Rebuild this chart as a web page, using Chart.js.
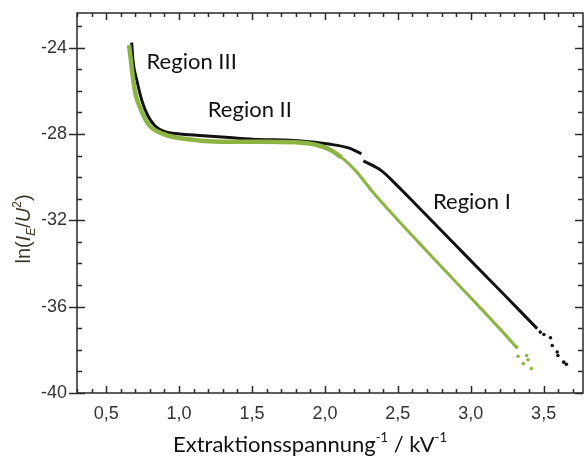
<!DOCTYPE html>
<html>
<head>
<meta charset="utf-8">
<script src="https://cdn.jsdelivr.net/npm/chart.js@4/dist/chart.umd.min.js"></script>
<style>
  body { margin: 0; background: #fff; }
  #wrap { width: 587px; height: 459px; }
</style>
</head>
<body>
<div id="wrap"><canvas id="myChart" width="587" height="459"></canvas></div>
<script>
'use strict';

// tick labels
const xTicks = [0.5, 1.0, 1.5, 2.0, 2.5, 3.0, 3.5];
const yTicks = [-40, -36, -32, -28, -24];

// black series (null = break in the curve)
const blackX = [0.675, 0.684, 0.711, 0.745, 0.786, 0.834, 0.902, 1.004, 1.14, 1.345, 1.549, 1.753, 1.89, 2.026, 2.162, 2.25, 2.257, 2.264, 2.387, 2.503, 2.617, 2.753, 2.889, 3.048, 3.23, 3.456];
const blackY = [-23.77, -24.62, -25.54, -26.46, -27.16, -27.62, -27.9, -28.0, -28.07, -28.17, -28.26, -28.29, -28.36, -28.47, -28.65, -28.92, null, -29.25, -29.7, -30.44, -31.22, -32.16, -33.1, -34.2, -35.45, -37.02];
const blackTailX = [3.477, 3.502, 3.547, 3.559, 3.593, 3.598, 3.638, 3.656];
const blackTailY = [-37.18, -37.29, -37.44, -37.8, -38.1, -38.26, -38.57, -38.67];

// green series
const greenX = [0.657, 0.670, 0.686, 0.704, 0.732, 0.788, 0.89, 1.05, 1.277, 1.57, 1.80, 1.937, 2.026, 2.114, 2.21, 2.321, 2.503, 2.639, 2.775, 3.002, 3.23, 3.32];
const greenY = [-23.88, -24.62, -25.54, -26.23, -26.77, -27.54, -28.0, -28.24, -28.36, -28.36, -28.39, -28.5, -28.7, -29.09, -29.7, -30.63, -32.01, -33.0, -33.98, -35.6, -37.25, -37.93];
const greenTailX = [3.315, 3.325, 3.384, 3.393, 3.361, 3.416];
const greenTailY = [-37.87, -38.3, -38.26, -38.46, -38.64, -38.87];

// region labels
const regionNames = ['Region III', 'Region II', 'Region I'];
const regionX = [0.777, 1.197, 2.741];
const regionY = [-25.0, -27.2, -31.5];

const BLACK = '#111111';
const GREEN = '#8db443';

function toPoints(xs, ys) {
  return xs.map((x, i) => ({ x: x, y: ys[i] }));
}

function fmt(v) {
  return v.toFixed(1).replace('.', ',');
}

// frame with inward ticks on all four sides
const framePlugin = {
  id: 'frame',
  afterDraw(chart) {
    const ctx = chart.ctx;
    const a = chart.chartArea;
    const xs = chart.scales.x;
    const ys = chart.scales.y;
    ctx.save();
    ctx.strokeStyle = '#2a2a2a';
    ctx.lineWidth = 1.5;
    ctx.strokeRect(a.left, a.top, a.right - a.left, a.bottom - a.top);
    ctx.beginPath();
    // x minor + major
    for (let v = 0.3; v <= xs.max + 1e-6; v += 0.1) {
      const px = Math.round(xs.getPixelForValue(v)) + 0.5;
      const major = xTicks.some(t => Math.abs(t - v) < 1e-6);
      const len = major ? 7 : 4;
      ctx.moveTo(px, a.bottom); ctx.lineTo(px, a.bottom - len);
      ctx.moveTo(px, a.top); ctx.lineTo(px, a.top + len);
    }
    // y minor + major
    for (let v = -40; v <= ys.max + 1e-6; v += 1) {
      const py = Math.round(ys.getPixelForValue(v)) + 0.5;
      const major = yTicks.includes(v);
      const len = major ? 8 : 5;
      ctx.moveTo(a.left - (major ? 8 : 0), py); ctx.lineTo(a.left + len, py);
      ctx.moveTo(a.right, py); ctx.lineTo(a.right - len, py);
    }
    ctx.stroke();

    // region labels
    ctx.fillStyle = '#111';
    ctx.font = '22px Lato';
    ctx.textBaseline = 'alphabetic';
    ctx.textAlign = 'left';
    regionNames.forEach((n, i) => {
      ctx.fillText(n, xs.getPixelForValue(regionX[i]), ys.getPixelForValue(regionY[i]));
    });

    // x axis title
    const big = '22px Lato';
    const small = '13px Lato';
    const parts = [
      ['Extraktionsspannung', big, 0],
      ['-1', small, -10],
      [' / kV', big, 0],
      ['-1', small, -10]
    ];
    let total = 0;
    parts.forEach(p => { ctx.font = p[1]; total += ctx.measureText(p[0]).width; });
    let cx = 310 - total / 2;
    const base = 452;
    parts.forEach(p => {
      ctx.font = p[1];
      ctx.fillText(p[0], cx, base + p[2]);
      cx += ctx.measureText(p[0]).width;
    });

    // y axis title, rotated
    ctx.translate(30, 229);
    ctx.rotate(-Math.PI / 2);
    ctx.fillStyle = '#3e3828';
    const yf = '20px "Liberation Sans"';
    const yfi = 'italic 20px "Liberation Sans"';
    const ysub = 'italic 12px "Liberation Sans"';
    const ysup = '12px "Liberation Sans"';
    const yParts = [
      ['ln(', yf, 0],
      ['I', yfi, 0],
      ['E', ysub, 5],
      ['/', yf, 0],
      ['U', yfi, 0],
      ['2', ysup, -9],
      [')', yf, 0]
    ];
    total = 0;
    yParts.forEach(p => { ctx.font = p[1]; total += ctx.measureText(p[0]).width; });
    cx = -total / 2;
    yParts.forEach(p => {
      ctx.font = p[1];
      ctx.fillText(p[0], cx, p[2]);
      cx += ctx.measureText(p[0]).width;
    });
    ctx.restore();
  }
};

const ctx = document.getElementById('myChart').getContext('2d');
const chart = new Chart(ctx, {
  type: 'scatter',
  data: {
    datasets: [
      {
        label: 'green',
        data: toPoints(greenX, greenY),
        showLine: true,
        borderColor: GREEN,
        borderWidth: 4.5,
        segment: {
          borderWidth: c => (c.p0.parsed.x < 2.1 ? 4.5 : 3)
        },
        pointRadius: 0,
        cubicInterpolationMode: 'monotone',
        spanGaps: false,
        order: 0
      },
      {
        label: 'green tail',
        data: toPoints(greenTailX, greenTailY),
        backgroundColor: GREEN,
        borderWidth: 0,
        pointRadius: 1.8,
        order: 0
      },
      {
        label: 'black',
        data: toPoints(blackX, blackY),
        showLine: true,
        borderColor: BLACK,
        borderWidth: 3,
        pointRadius: 0,
        cubicInterpolationMode: 'monotone',
        spanGaps: false,
        order: 1
      },
      {
        label: 'black tail',
        data: toPoints(blackTailX, blackTailY),
        backgroundColor: BLACK,
        borderWidth: 0,
        pointRadius: 1.8,
        order: 1
      }
    ]
  },
  options: {
    responsive: false,
    animation: false,
    layout: { padding: { top: 13, right: -2, left: 0, bottom: 0 } },
    plugins: {
      legend: { display: false },
      tooltip: { enabled: false }
    },
    scales: {
      x: {
        type: 'linear',
        min: 0.3,
        max: 3.77,
        afterFit: s => { s.height = 66; s.paddingLeft = 0; s.paddingRight = 0; },
        afterBuildTicks: s => { s.ticks = xTicks.map(v => ({ value: v })); },
        grid: { display: false, drawTicks: false },
        border: { display: false },
        ticks: {
          padding: 10,
          color: '#333',
          font: { family: 'Liberation Sans', size: 18 },
          callback: v => fmt(v)
        }
      },
      y: {
        type: 'linear',
        min: -40,
        max: -22.4,
        afterFit: s => { s.width = 77; s.paddingTop = 0; s.paddingBottom = 0; },
        afterBuildTicks: s => { s.ticks = yTicks.map(v => ({ value: v })); },
        grid: { display: false, drawTicks: false },
        border: { display: false },
        ticks: {
          padding: 10,
          color: '#333',
          font: { family: 'Liberation Sans', size: 18 },
          callback: v => String(v)
        }
      }
    }
  },
  plugins: [framePlugin]
});
</script>
</body>
</html>
